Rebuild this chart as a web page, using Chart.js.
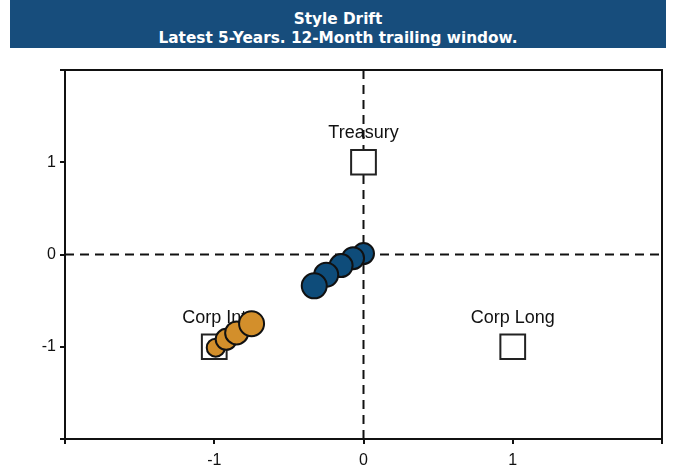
<!DOCTYPE html>
<html>
<head>
<meta charset="utf-8">
<script src="https://cdn.jsdelivr.net/npm/chart.js@4.4.1/dist/chart.umd.min.js"></script>
<style>
  body { margin: 0; background: #fff; }
  #wrap { width: 675px; height: 474px; position: relative; }
  .titulo {
    position: absolute; left: 10px; top: 0; width: 656px; height: 48px;
    background: #174d7c; color: #fff; text-align: center;
    font-family: "DejaVu Sans", sans-serif; font-weight: bold;
    font-size: 15.3px; line-height: 19px; padding-top: 10px; box-sizing: border-box;
  }
  #grafico { position: absolute; left: 0; top: 48px; }
</style>
</head>
<body>
<div id="wrap">
  <div class="titulo">Style Drift<br>Latest 5-Years. 12-Month trailing window.</div>
  <canvas id="grafico" width="675" height="426"></canvas>
</div>
<script>
// indices de referencia
const indices = ['Treasury', 'Corp Int', 'Corp Long'];
const indicesX = [0, -1, 1];
const indicesY = [1, -1, -1];

// janelas antigas (laranja) e recentes (azul)
const laranjaX = [-0.99, -0.92, -0.85, -0.75];
const laranjaY = [-1.01, -0.92, -0.85, -0.75];
const laranjaRaio = [9, 10.5, 11.5, 12.5];

const azulX = [0.0, -0.07, -0.15, -0.25, -0.33];
const azulY = [0.01, -0.04, -0.12, -0.22, -0.34];
const azulRaio = [10.5, 11, 11.5, 12, 12.5];

const ticksEixo = [-2, -1, 0, 1, 2];

const pontos = (xs, ys) => xs.map((x, i) => ({ x: x, y: ys[i] }));

// rotulos + linhas tracejadas em zero + moldura
const extras = {
    id: 'extras',
    beforeDatasetsDraw(chart) {
        const { ctx, chartArea: a, scales } = chart;
        ctx.save();
        ctx.fillStyle = '#111';
        ctx.font = '18px "Liberation Sans", Arial, sans-serif';
        ctx.textAlign = 'center';
        ctx.textBaseline = 'middle';
        indices.forEach((nome, i) => {
            ctx.fillText(nome, scales.x.getPixelForValue(indicesX[i]), scales.y.getPixelForValue(indicesY[i]) - 29);
        });

        const x0 = scales.x.getPixelForValue(0);
        const y0 = scales.y.getPixelForValue(0);
        ctx.strokeStyle = '#111';
        ctx.lineWidth = 2;
        ctx.setLineDash([9, 6]);
        ctx.beginPath();
        ctx.moveTo(a.left, y0); ctx.lineTo(a.right, y0);
        ctx.moveTo(x0, a.top); ctx.lineTo(x0, a.bottom);
        ctx.stroke();

        ctx.setLineDash([]);
        ctx.beginPath();
        ctx.moveTo(a.left, a.top); ctx.lineTo(a.right, a.top); ctx.lineTo(a.right, a.bottom);
        ctx.stroke();
        ctx.restore();
    }
};

const eixo = (tamanho, pad) => ({
    min: -2, max: 2,
    afterBuildTicks: s => { s.ticks = ticksEixo.map(v => ({ value: v })); },
    afterFit: s => {
        if (s.isHorizontal()) s.height = tamanho; else s.width = tamanho;
        s.paddingLeft = s.paddingRight = s.paddingTop = s.paddingBottom = 0;
    },
    grid: { drawOnChartArea: false, drawTicks: true, tickLength: 5, color: '#111', lineWidth: 2 },
    border: { display: true, color: '#111', width: 2 },
    ticks: {
        padding: pad,
        color: '#111',
        font: { family: '"Liberation Sans", Arial, sans-serif', size: 16 },
        callback: v => (Math.abs(v) === 2 ? '' : String(v))
    }
});

new Chart(document.getElementById('grafico'), {
    type: 'scatter',
    data: {
        datasets: [
            {
                data: pontos(azulX, azulY),
                backgroundColor: '#0e4c7a',
                borderColor: '#111',
                borderWidth: 2,
                pointRadius: azulRaio,
                order: 1
            },
            {
                data: pontos(laranjaX, laranjaY),
                backgroundColor: '#d38f2b',
                borderColor: '#111',
                borderWidth: 2,
                pointRadius: laranjaRaio,
                order: 2
            },
            {
                data: pontos(indicesX, indicesY),
                pointStyle: 'rect',
                backgroundColor: '#fff',
                borderColor: '#222',
                borderWidth: 2,
                pointRadius: 17.5,
                order: 3
            }
        ]
    },
    options: {
        responsive: false,
        animation: false,
        layout: { autoPadding: false, padding: { left: 0, right: 13, top: 22, bottom: 0 } },
        plugins: { legend: { display: false }, tooltip: { enabled: false } },
        scales: {
            x: eixo(35, 7),
            y: eixo(65, 4)
        }
    },
    plugins: [extras]
});
</script>
</body>
</html>
